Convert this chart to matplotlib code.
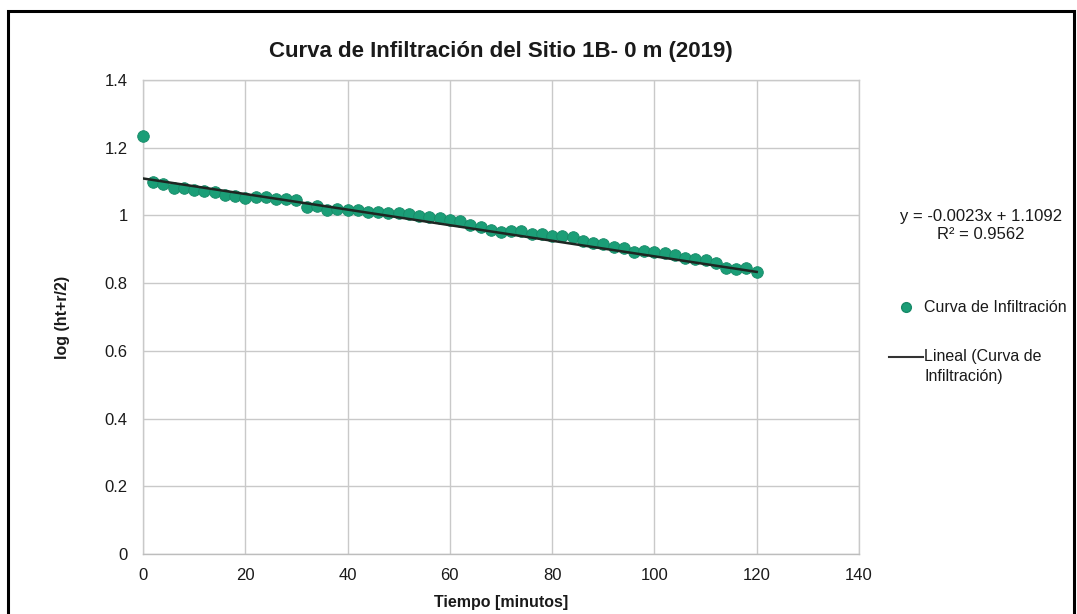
import matplotlib
matplotlib.use("Agg")
import matplotlib.pyplot as plt
from matplotlib.lines import Line2D
from matplotlib.patches import Rectangle

# Infiltration test readings, one every 2 minutes
tiempo = list(range(0, 121, 2))
log_h = [
    1.235, 1.100, 1.093, 1.082, 1.080, 1.076, 1.072, 1.069, 1.061, 1.058,
    1.052, 1.053, 1.055, 1.050, 1.049, 1.047, 1.025, 1.027, 1.017, 1.018,
    1.016, 1.015, 1.011, 1.010, 1.006, 1.006, 1.005, 0.997, 0.994, 0.992,
    0.987, 0.985, 0.973, 0.966, 0.957, 0.950, 0.953, 0.953, 0.945, 0.944,
    0.940, 0.938, 0.937, 0.923, 0.919, 0.915, 0.908, 0.903, 0.893, 0.895,
    0.893, 0.888, 0.883, 0.873, 0.870, 0.869, 0.859, 0.846, 0.842, 0.846,
    0.834,
]

# Linear trendline reported with the series
pendiente = -0.0023
ordenada = 1.1092
r2 = 0.9562

x_ticks = [0, 20, 40, 60, 80, 100, 120, 140]
y_ticks = [0, 0.2, 0.4, 0.6, 0.8, 1.0, 1.2, 1.4]
y_tick_labels = ["0", "0.2", "0.4", "0.6", "0.8", "1", "1.2", "1.4"]

titulo = "Curva de Infiltración del Sitio 1B- 0 m (2019)"
eje_x = "Tiempo [minutos]"
eje_y = "log (ht+r/2)"
serie = "Curva de Infiltración"
serie_lineal = "Lineal (Curva de\nInfiltración)"

fuente = ["Liberation Sans", "DejaVu Sans"]

W, H = 1077, 614
fig = plt.figure(figsize=(W / 100, H / 100), dpi=100)


def fx(px):
    return px / W


def fy(py):
    return 1 - py / H


verde = "#1B9E77"
rejilla = "#C9C9C9"
texto = "#1A1A1A"

ax = fig.add_axes([fx(143), fy(554), fx(859) - fx(143), fy(80) - fy(554)])
ax.set_xlim(0, 140)
ax.set_ylim(0, 1.4)
ax.set_xticks(x_ticks)
ax.set_yticks(y_ticks)
ax.set_yticklabels(y_tick_labels)
ax.grid(True, color=rejilla, lw=1)
ax.set_axisbelow(True)
for s in ax.spines.values():
    s.set_color(rejilla)
    s.set_linewidth(1)
ax.spines["bottom"].set_color("#BDBDBD")
ax.tick_params(axis="y", length=0, pad=11, labelsize=12, colors=texto)
ax.tick_params(axis="x", length=0, pad=10, labelsize=12, colors=texto)
for lab in ax.get_xticklabels() + ax.get_yticklabels():
    lab.set_family(fuente)

ax.scatter(tiempo, log_h, s=70, color=verde, edgecolor="#178A68",
           linewidth=0.6, zorder=3, clip_on=False)

x_fit = [0, 120]
y_fit = [ordenada + pendiente * v for v in x_fit]
ax.plot(x_fit, y_fit, color="#1E2622", lw=1.8, zorder=4)

fig.text(fx(501), fy(52), titulo, ha="center", va="center",
         fontsize=16, fontweight="bold", family=fuente, color=texto)
fig.text(fx(501), fy(603), eje_x, ha="center", va="center",
         fontsize=11.5, fontweight="bold", family=fuente, color=texto)
fig.text(fx(63), fy(317), eje_y, ha="center", va="center", rotation=90,
         fontsize=11.5, fontweight="bold", family=fuente, color=texto)

# Trendline equation
fig.text(fx(981), fy(217), f"y = {pendiente:.4f}x + {ordenada:.4f}",
         ha="center", va="center", fontsize=12, family=fuente, color=texto)
fig.text(fx(981), fy(235), f"R² = {r2:.4f}",
         ha="center", va="center", fontsize=12, family=fuente, color=texto)

# Legend entries
fig.add_artist(Line2D([fx(906)], [fy(307)], marker="o", ms=7, color=verde,
                      markeredgecolor="#178A68", ls="none",
                      transform=fig.transFigure))
fig.text(fx(924), fy(307), serie, ha="left", va="center",
         fontsize=11.5, family=fuente, color=texto)
fig.add_artist(Line2D([fx(889), fx(923)], [fy(357), fy(357)], color="#333333",
                      lw=1.5, transform=fig.transFigure))
fig.text(fx(924), fy(357), serie_lineal.split("\n")[0], ha="left", va="center",
         fontsize=11.5, family=fuente, color=texto)
fig.text(fx(924), fy(377), serie_lineal.split("\n")[1], ha="left", va="center",
         fontsize=11.5, family=fuente, color=texto)

# Outer frame
fig.add_artist(Rectangle((fx(7.5), fy(630)), fx(1073.5) - fx(7.5), fy(10.5) - fy(630),
                         fill=False, edgecolor="black", lw=2.2,
                         transform=fig.transFigure, clip_on=False))

fig.savefig("out.png", dpi=100)
